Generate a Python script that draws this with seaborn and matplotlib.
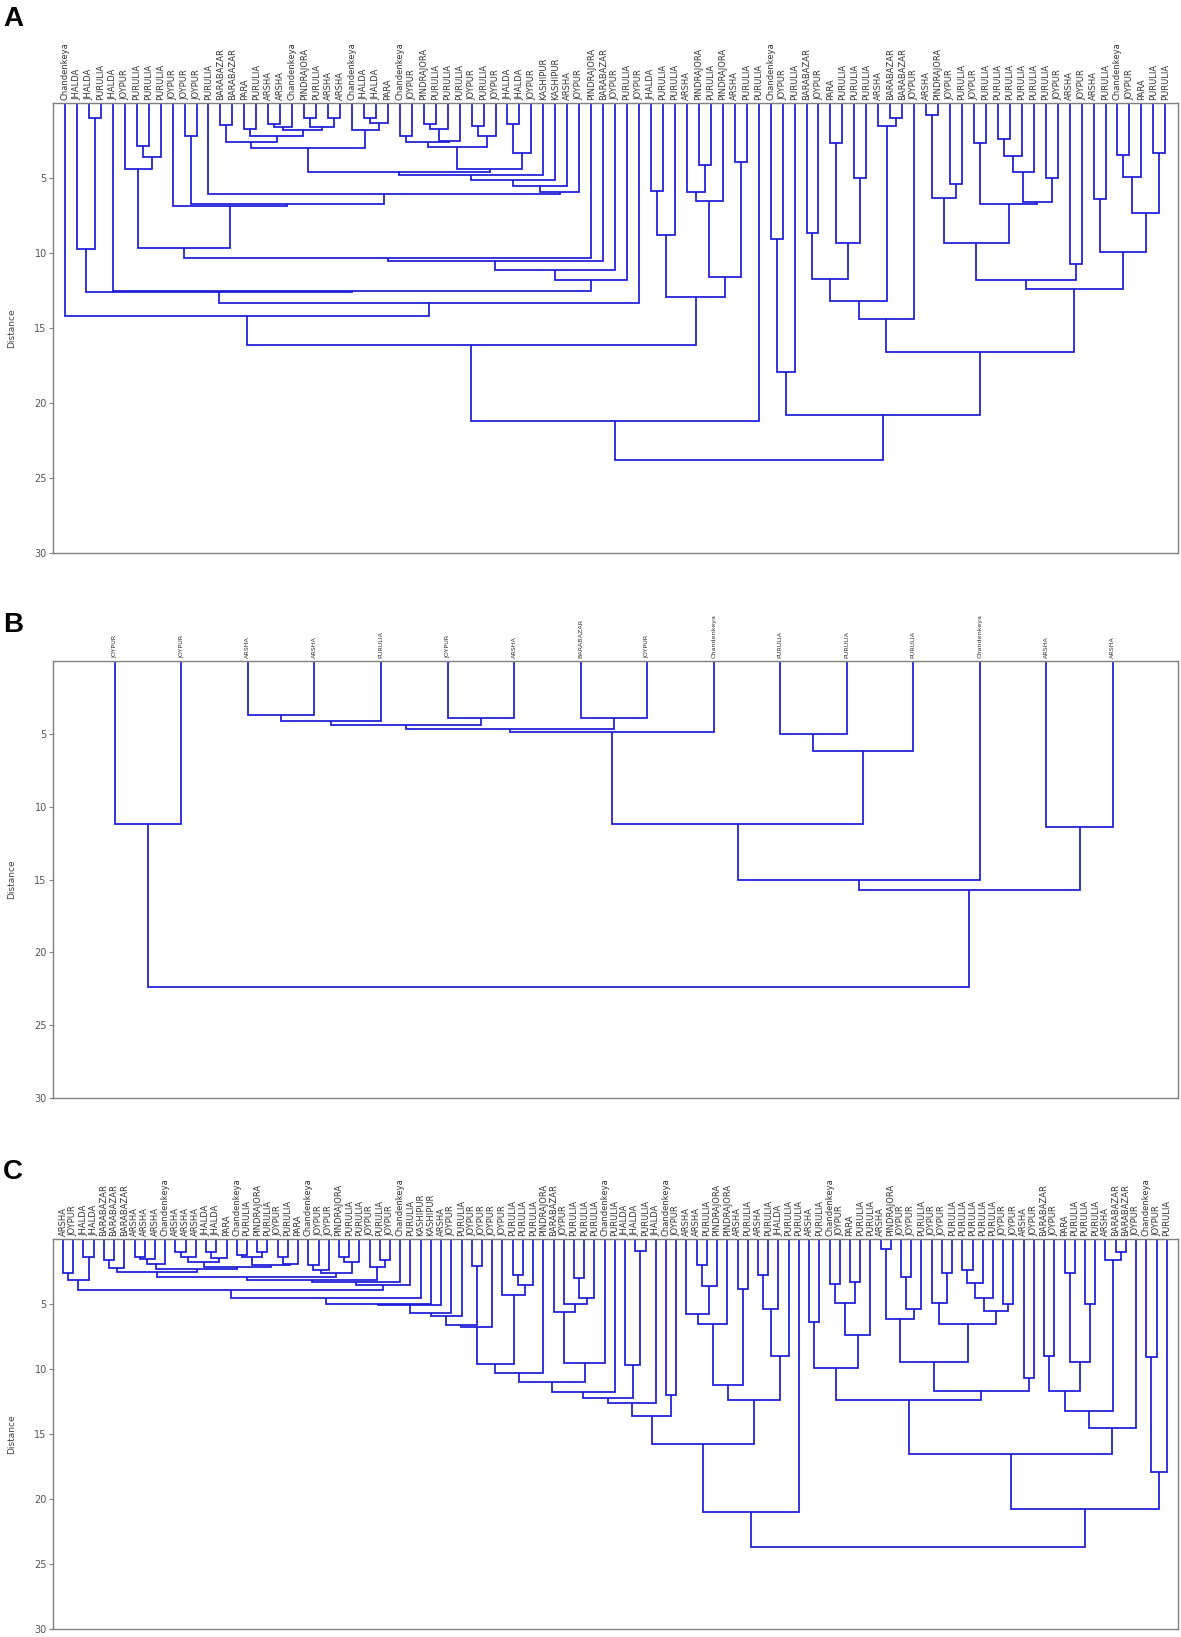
import matplotlib
matplotlib.use("Agg")
import matplotlib.pyplot as plt
import seaborn as sns
import numpy as np
from matplotlib.collections import LineCollection
from matplotlib import font_manager as fm
from matplotlib.transforms import blended_transform_factory, offset_copy

# ---------------------------------------------------------------- labels
labels_A = ["Chandenkeya", "JHALDA", "JHALDA", "PURULIA", "JHALDA", "JOYPUR", "PURULIA", "PURULIA",
            "PURULIA", "JOYPUR", "JOYPUR", "JOYPUR", "PURULIA", "BARABAZAR", "BARABAZAR", "PARA",
            "PURULIA", "ARSHA", "ARSHA", "Chandenkeya", "PINDRAJORA", "PURULIA", "ARSHA", "ARSHA",
            "Chandenkeya", "JHALDA", "JHALDA", "PARA", "Chandenkeya", "JOYPUR", "PINDRAJORA", "PURULIA",
            "PURULIA", "PURULIA", "JOYPUR", "PURULIA", "JOYPUR", "JHALDA", "JHALDA", "JOYPUR",
            "KASHIPUR", "KASHIPUR", "ARSHA", "JOYPUR", "PINDRAJORA", "BARABAZAR", "JOYPUR", "PURULIA",
            "JOYPUR", "JHALDA", "PURULIA", "PURULIA", "ARSHA", "PINDRAJORA", "PURULIA", "PINDRAJORA",
            "ARSHA", "PURULIA", "PURULIA", "Chandenkeya", "JOYPUR", "PURULIA", "BARABAZAR", "JOYPUR",
            "PARA", "PURULIA", "PURULIA", "PURULIA", "ARSHA", "BARABAZAR", "BARABAZAR", "JOYPUR",
            "ARSHA", "PINDRAJORA", "JOYPUR", "PURULIA", "JOYPUR", "PURULIA", "PURULIA", "PURULIA",
            "PURULIA", "PURULIA", "PURULIA", "JOYPUR", "ARSHA", "JOYPUR", "ARSHA", "PURULIA",
            "Chandenkeya", "JOYPUR", "PARA", "PURULIA", "PURULIA"]

labels_B = ["JOYPUR", "JOYPUR", "ARSHA", "ARSHA", "PURULIA", "JOYPUR", "ARSHA", "BARABAZAR",
            "JOYPUR", "Chandenkeya", "PURULIA", "PURULIA", "PURULIA", "Chandenkeya", "ARSHA", "ARSHA"]

labels_C = ["ARSHA", "JOYPUR", "JHALDA", "JHALDA", "BARABAZAR", "BARABAZAR", "BARABAZAR", "ARSHA",
            "ARSHA", "ARSHA", "Chandenkeya", "ARSHA", "ARSHA", "ARSHA", "JHALDA", "JHALDA",
            "PARA", "Chandenkeya", "PURULIA", "PINDRAJORA", "PURULIA", "JOYPUR", "PURULIA", "PARA",
            "Chandenkeya", "JOYPUR", "JOYPUR", "PINDRAJORA", "PURULIA", "PURULIA", "JOYPUR", "PURULIA",
            "JOYPUR", "Chandenkeya", "PURULIA", "KASHIPUR", "KASHIPUR", "ARSHA", "JOYPUR", "PURULIA",
            "JOYPUR", "JOYPUR", "JOYPUR", "JOYPUR", "PURULIA", "PURULIA", "PURULIA", "PINDRAJORA",
            "BARABAZAR", "JOYPUR", "PURULIA", "PURULIA", "PURULIA", "Chandenkeya", "PURULIA", "JHALDA",
            "JHALDA", "PURULIA", "JHALDA", "Chandenkeya", "JOYPUR", "ARSHA", "ARSHA", "PURULIA",
            "PINDRAJORA", "PINDRAJORA", "ARSHA", "PURULIA", "ARSHA", "PURULIA", "JHALDA", "PURULIA",
            "PURULIA", "ARSHA", "PURULIA", "Chandenkeya", "JOYPUR", "PARA", "PURULIA", "PURULIA",
            "ARSHA", "PINDRAJORA", "JOYPUR", "JOYPUR", "PURULIA", "JOYPUR", "JOYPUR", "PURULIA",
            "PURULIA", "PURULIA", "PURULIA", "PURULIA", "JOYPUR", "JOYPUR", "ARSHA", "JOYPUR",
            "BARABAZAR", "JOYPUR", "PARA", "PURULIA", "PURULIA", "PURULIA", "ARSHA", "BARABAZAR",
            "BARABAZAR", "JOYPUR", "Chandenkeya", "JOYPUR", "PURULIA"]

distance_ticks = [5, 10, 15, 20, 25, 30]

# ------------------------------------------------ merges (leaf numbers are 1-based)
# each merge: (left, right, distance)
# ---- panel A
a_p2 = (2, (3, 4, 1.0), 9.7)
a_69 = (6, ((7, 8, 2.85), 9, 3.6), 4.4)
a_c1 = ((14, 15, 1.47), ((16, 17, 1.73), (((18, 19, 1.42), 20, 1.6),
                                           ((21, 22, 1.0), (23, 24, 1.0), 1.63), 1.8), 2.2), 2.6)
a_cj = (25, ((26, 27, 1.0), 28, 1.3), 1.8)
a_y = ((((29, 30, 2.2), (((31, 32, 1.4), 33, 1.7), 34, 2.5), 2.6),
        ((35, 36, 1.5), 37, 2.2), 2.95), ((38, 39, 1.4), 40, 3.3), 4.4)
a_m = (((((a_c1, a_cj, 3.0), a_y, 4.6), 41, 4.8), 42, 5.1), 43, 5.5)
a_m44 = (a_m, 44, 5.9)
a_n10 = (10, ((11, 12, 2.2), (13, a_m44, 6.07), 6.7), 6.87)
a_n48 = (((((a_69, a_n10, 9.67), 45, 10.3), 46, 10.5), 47, 11.1), 48, 11.8)
a_left = (1, ((a_p2, (5, a_n48, 12.5), 12.6), 49, 13.3), 14.2)
a_mid = (((50, 51, 5.87), 52, 8.8),
         (((53, (54, 55, 4.1), 5.9), 56, 6.5), (57, 58, 3.9), 11.6), 12.9)
a_L = ((a_left, a_mid, 16.1), 59, 21.2)
a_Ra = ((60, 61, 9.07), 62, 17.9)
a_Rb1 = (((((63, 64, 8.65), ((65, 66, 2.65), (67, 68, 5.0), 9.36), 11.7),
           (69, (70, 71, 1.0), 1.5), 13.2), 72, 14.4))
a_r1 = ((73, 74, 0.8), (75, 76, 5.4), 6.3)
a_r2 = ((77, 78, 2.65), ((((79, 80, 2.42), 81, 3.53), 82, 4.58), (83, 84, 5.0), 6.58), 6.73)
a_r4 = ((a_r1, a_r2, 9.36), (85, 86, 10.7), 11.8)
a_r5 = ((87, 88, 6.42), (((89, 90, 3.47), 91, 4.9), (92, 93, 3.3), 7.36), 9.9)
a_Rb = (a_Rb1, (a_r4, a_r5, 12.4), 16.6)
tree_A = (a_L, (a_Ra, a_Rb, 20.8), 23.8)

# ---- panel B
b_a = (((((3, 4, 3.7), 5, 4.1), (6, 7, 3.9), 4.4), (8, 9, 3.9), 4.7), 10, 4.9)
b_b = ((11, 12, 5.0), 13, 6.2)
b_c = ((b_a, b_b, 11.2), 14, 15.0)
tree_B = ((1, 2, 11.2), (b_c, (15, 16, 11.4), 15.7), 22.4)

# ---- panel C
c_b1 = ((1, 2, 2.64), (3, 4, 1.36), 3.15)
c_b2 = ((5, 6, 1.62), 7, 2.26)
c_b3 = (((8, 9, 1.36), 10, 1.5), 11, 1.9)
c_b45 = (((12, 13, 0.97), 14, 1.4), ((15, 16, 0.97), 17, 1.45), 1.75)
c_b67 = (((18, 19, 1.23), (20, 21, 0.97), 1.41), ((22, 23, 1.36), 24, 1.9), 2.0)
c_b27 = (c_b2, (c_b3, (c_b45, c_b67, 2.13), 2.3), 2.51)
c_b8 = (((25, 26, 2.0), 27, 2.38), ((28, 29, 1.36), 30, 1.74), 2.64)
c_b9 = (31, (32, 33, 1.6), 2.18)
c_blk = (c_b1, ((((c_b27, c_b8, 2.9), c_b9, 3.15), 34, 3.28), 35, 3.5), 3.92)
c_cas = (((((c_blk, 36, 4.56), 37, 4.97), 38, 5.1), 39, 5.7), 40, 5.9)
c_643 = ((c_cas, (41, 42, 2.1), 6.6), 43, 6.75)
c_4447 = (44, ((45, 46, 2.8), 47, 3.5), 4.3)
c_103 = ((c_643, c_4447, 9.6), 48, 10.3)
c_95 = ((49, (50, ((51, 52, 3.0), 53, 4.5), 5.0), 5.6), 54, 9.5)
c_118 = ((c_103, c_95, 11.0), 55, 11.8)
c_136 = (((c_118, (56, (57, 58, 0.95), 9.7), 12.2), 59, 12.6), (60, 61, 12.0), 13.6)
c_G = ((((62, ((63, 64, 2.0), 65, 3.6), 5.8), 66, 6.5), (67, 68, 3.85), 11.2),
       (((69, 70, 2.8), 71, 5.4), 72, 9.0), 12.4)
c_L = ((c_136, c_G, 15.8), 73, 21.0)
c_cr1 = ((74, 75, 6.36), (((76, 77, 3.46), (78, 79, 3.28), 4.9), 80, 7.4), 9.95)
c_cr2a = ((81, 82, 0.8), ((83, 84, 2.9), 85, 5.4), 6.18)
c_cr2b = ((86, (87, 88, 2.64), 4.95),
          ((((89, 90, 2.38), 91, 3.4), 92, 4.5), (93, 94, 5.0), 5.5), 6.5)
c_cr4 = (c_cr1, ((c_cr2a, c_cr2b, 9.44), (95, 96, 10.7), 11.7), 12.4)
c_cr6 = ((((97, 98, 9.0), ((99, 100, 2.64), (101, 102, 5.0), 9.44), 11.7),
          (103, (104, 105, 1.0), 1.6), 13.2), 106, 14.5)
c_R = ((c_cr4, c_cr6, 16.5), ((107, 108, 9.1), 109, 17.9), 20.8)
tree_C = (c_L, c_R, 23.7)

# ---------------------------------------------------------------- style
sns.set_theme(style="white")
names = {f.name for f in fm.fontManager.ttflist}
NARROW = "Liberation Sans Narrow" in names
leaf_family = ["Liberation Sans Narrow", "DejaVu Sans"] if NARROW else ["DejaVu Sans"]
plt.rcParams["font.family"] = ["Liberation Sans", "DejaVu Sans"]

LINE = "#1a1ad8"
SPINE = "#808080"
W, H = 1181, 1637


def build(tree):
    segs, order = [], []

    def rec(node):
        if isinstance(node, int):
            order.append(node)
            return node - 1.0, 0.0
        left, right, h = node
        xl, hl = rec(left)
        xr, hr = rec(right)
        segs.append([(xl, hl), (xl, h), (xr, h), (xr, hr)])
        return (xl + xr) / 2.0, h

    rec(tree)
    if order != list(range(1, len(order) + 1)):
        raise AssertionError("bad order: %s" % order)
    return segs


def panel(top, bottom, tree, labels, xlim, leaf_fs, letter, letter_y):
    ax = fig.add_axes([53 / W, 1 - bottom / H, (1178 - 53) / W, (bottom - top) / H])
    segs = build(tree)
    lc = LineCollection(segs, colors=LINE, linewidths=1.25, capstyle="butt", joinstyle="miter")
    ax.add_collection(lc)
    ax.set_xlim(*xlim)
    ax.set_ylim(30, 0)
    ax.set_xticks([])
    ax.set_yticks(distance_ticks)
    ax.set_yticklabels([str(t) for t in distance_ticks], fontsize=7, color="#555555",
                       family=["DejaVu Sans"])
    ax.tick_params(axis="y", length=3, width=0.8, color=SPINE, pad=1.5, left=True)
    for s in ax.spines.values():
        s.set_color(SPINE)
        s.set_linewidth(1.0)
        s.set_visible(True)
    trans = offset_copy(blended_transform_factory(ax.transData, ax.transAxes), fig=fig,
                        y=3, units="dots")
    for i, lab in enumerate(labels):
        ax.text(i, 1.0, lab, transform=trans, rotation=90, ha="center", va="bottom",
                fontsize=leaf_fs, family=leaf_family, color="#333333")
    fig.text(12 / W, 1 - (top + bottom) / 2 / H, "Distance", rotation=90, ha="center",
             va="center", fontsize=6.5, family=leaf_family, color="#444444")
    fig.text(3 / W, 1 - letter_y / H, letter, ha="left", va="center", fontsize=20,
             fontweight="bold", color="black", family=["Liberation Sans", "DejaVu Sans"])
    return ax


fig = plt.figure(figsize=(W / 100, H / 100), dpi=100)
fs_big = 7.8 if NARROW else 6.0
fs_small = 6.0 if NARROW else 4.6
panel(103, 553, tree_A, labels_A, (-1.0, 93.06), fs_big, "A", 19)
panel(661, 1098, tree_B, labels_B, (-0.93, 15.98), fs_small, "B", 625)
panel(1239, 1629, tree_C, labels_C, (-0.98, 109.1), fs_big, "C", 1172)

fig.savefig("out.png", dpi=100, facecolor="white")
